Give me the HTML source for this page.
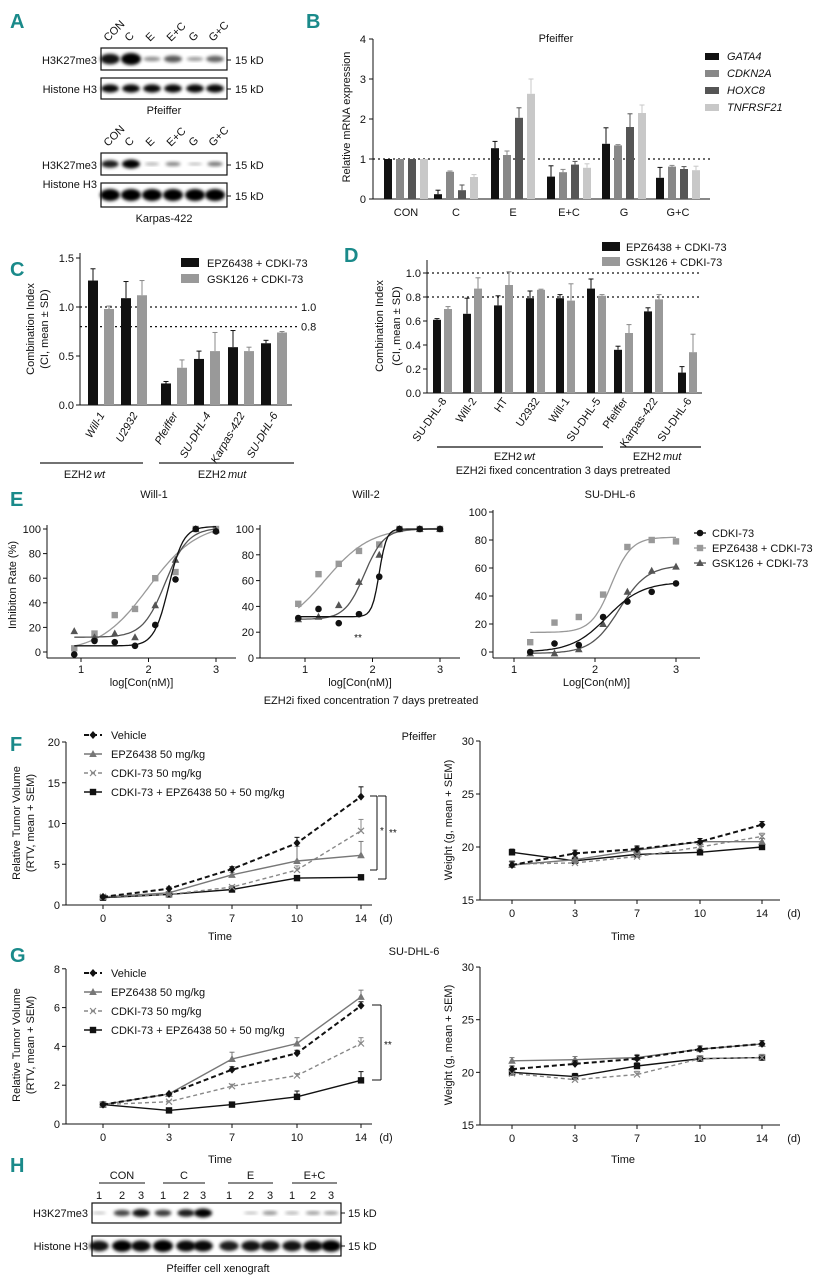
<!DOCTYPE html>
<html><head><meta charset="utf-8"><style>
html,body{margin:0;padding:0;background:#fff;}
svg{display:block;font-family:"Liberation Sans",Arial,sans-serif;}
.pl{fill:#1a8a8a;font-weight:bold;font-size:20px;}
</style></head><body>
<svg id="fig" width="829" height="1280" viewBox="0 0 829 1280">
<defs><filter id="blur" x="-50%" y="-50%" width="200%" height="200%"><feGaussianBlur stdDeviation="1.6"/></filter></defs>
<text class="pl" x="10" y="28">A</text>
<text class="pl" x="306" y="28">B</text>
<text class="pl" x="10" y="276">C</text>
<text class="pl" x="344" y="262">D</text>
<text class="pl" x="10" y="506">E</text>
<text class="pl" x="10" y="751">F</text>
<text class="pl" x="10" y="962">G</text>
<text class="pl" x="10" y="1172">H</text>
</svg>
<script>
// ---------- DATA ----------
const aLanes=['CON','C','E','E+C','G','G+C'];
const aPfeifferK27=[0.85,1,0.25,0.5,0.2,0.45];
const aKarpasK27=[0.8,1,0.12,0.3,0.06,0.35];
const bGroups=['CON','C','E','E+C','G','G+C'];
const bGenes=['GATA4','CDKN2A','HOXC8','TNFRSF21'];
const bGATA4=[1,0.12,1.27,0.56,1.38,0.53];
const bCDKN2A=[1,0.68,1.1,0.67,1.34,0.81];
const bHOXC8=[1,0.22,2.03,0.86,1.8,0.75];
const bTNFRSF21=[1,0.55,2.63,0.78,2.15,0.72];
const bErrGATA4=[0,0.1,0.17,0.27,0.4,0.26];
const bErrCDKN2A=[0,0.02,0.1,0.07,0.02,0.03];
const bErrHOXC8=[0,0.13,0.25,0.08,0.33,0.06];
const bErrTNFRSF21=[0,0.06,0.37,0.1,0.2,0.1];
const bTicks=[0,1,2,3,4];
const cCells=['Will-1','U2932','Pfeiffer','SU-DHL-4','Karpas-422','SU-DHL-6'];
const cEPZ=[1.27,1.09,0.22,0.47,0.59,0.63];
const cEPZerr=[0.12,0.17,0.02,0.08,0.17,0.03];
const cGSK=[0.98,1.12,0.38,0.55,0.55,0.74];
const cGSKerr=[0.03,0.15,0.08,0.19,0.04,0.01];
const cTicks=['0.0','0.5','1.0','1.5'];
const dCells=['SU-DHL-8','Will-2','HT','U2932','Will-1','SU-DHL-5','Pfeiffer','Karpas-422','SU-DHL-6'];
const dEPZ=[0.61,0.66,0.73,0.79,0.79,0.87,0.36,0.68,0.17];
const dEPZerr=[0.01,0.13,0.08,0.06,0.03,0.08,0.03,0.03,0.05];
const dGSK=[0.70,0.87,0.90,0.86,0.77,0.81,0.50,0.78,0.34];
const dGSKerr=[0.02,0.09,0.11,0.005,0.14,0.01,0.07,0.04,0.15];
const dTicks=['0.0','0.2','0.4','0.6','0.8','1.0'];
const eX12=[0.9,1.2,1.5,1.8,2.1,2.4,2.7,3.0];
const eX3=[1.2,1.5,1.8,2.1,2.4,2.7,3.0];
const e1CDKI=[-2,9,8,5,22,59,100,98];
const e1EPZ=[3,15,30,35,60,65,100,100];
const e1GSK=[17,12,15,12,38,75,100,99];
const e2CDKI=[31,38,27,34,63,100,100,100];
const e2EPZ=[42,65,73,83,88,100,100,100];
const e2GSK=[30,32,41,59,80,100,100,100];
const e3CDKI=[0,6,5,25,36,43,49];
const e3EPZ=[7,21,25,41,75,80,79];
const e3GSK=[-1,-1,2,20,43,58,61];
const e1FitCDKI=[5,102,2.3,4], e1FitEPZ=[0,105,2.0,1.2], e1FitGSK=[12,101,2.25,2.6];
const e2FitCDKI=[32,100,2.1,8], e2FitEPZ=[20,101,1.3,1.3], e2FitGSK=[30,100,1.88,3];
const e3FitCDKI=[0,50,2.15,2], e3FitEPZ=[14,82,2.2,3.5], e3FitGSK=[-1,62,2.3,2.5];
const days=['0','3','7','10','14'];
const fVehicle=[1,2,4.4,7.6,13.3], fVehicleErr=[0.1,0.2,0.3,0.7,1.2];
const fEPZ=[1,1.5,3.7,5.4,6.1], fEPZErr=[0.1,0.1,0.3,1.8,1.7];
const fCDKI=[1,1.3,2.2,4.3,9.1], fCDKIErr=[0.1,0.1,0.2,0.5,1.4];
const fCombo=[0.9,1.3,1.9,3.3,3.4], fComboErr=[0.2,0.1,0.2,0.3,0.2];
const fwVehicle=[18.3,19.4,19.8,20.5,22.1];
const fwEPZ=[18.3,18.8,19.7,20.5,20.5];
const fwCDKI=[18.4,18.5,19.1,20.0,21.0];
const fwCombo=[19.5,18.7,19.3,19.5,20.0];
const gVehicle=[1,1.55,2.8,3.65,6.1], gVehicleErr=[0.05,0.05,0.15,0.15,0.2];
const gEPZ=[1,1.55,3.35,4.15,6.55], gEPZErr=[0.05,0.05,0.35,0.3,0.35];
const gCDKI=[1,1.15,1.95,2.5,4.15], gCDKIErr=[0.05,0.05,0.1,0.1,0.3];
const gCombo=[1,0.7,1.0,1.4,2.25], gComboErr=[0.05,0.05,0.1,0.3,0.45];
const gwVehicle=[20.3,20.8,21.3,22.2,22.7];
const gwEPZ=[21.1,21.2,21.4,22.2,22.7];
const gwCDKI=[19.9,19.3,19.8,21.3,21.4];
const gwCombo=[20.0,19.6,20.6,21.3,21.4];
const hGroups=['CON','C','E','E+C'];
const hK27=[0.02,0.6,0.85,0.65,0.8,1,0,0.05,0.25,0.12,0.2,0.2];
const hH3=[0.85,0.95,0.9,1,0.9,0.9,0.8,0.85,0.85,0.85,0.9,0.95];

// ---------- HELPERS ----------
const NS='http://www.w3.org/2000/svg';
const svg=document.getElementById('fig');
function mk(tag,attrs,parent){const e=document.createElementNS(NS,tag);for(const k in attrs)e.setAttribute(k,attrs[k]);(parent||svg).appendChild(e);return e;}
function tx(x,y,s,size,anchor,extra,name){const e=mk('text',Object.assign({x:x,y:y,'font-size':size,'text-anchor':anchor||'start',fill:'#111'},extra||{}));e.textContent=s;


return e;}
function ln(x1,y1,x2,y2,stroke,w,extra,name){const e=mk('line',Object.assign({x1:x1,y1:y1,x2:x2,y2:y2,stroke:stroke||'#111','stroke-width':w||1},extra||{}));


return e;}
function rect(x,y,w,h,fill,name,extra){const e=mk('rect',Object.assign({x:x,y:y,width:w,height:h,fill:fill},extra||{}));


return e;}
function marker(type,x,y,color,name){let e;
if(type==='circle')e=mk('circle',{cx:x,cy:y,r:3.3,fill:color});
else if(type==='square')e=mk('rect',{x:x-3.2,y:y-3.2,width:6.4,height:6.4,fill:color});
else if(type==='triangle')e=mk('polygon',{points:(x)+','+(y-4)+' '+(x-3.8)+','+(y+3)+' '+(x+3.8)+','+(y+3),fill:color});
else if(type==='diamond')e=mk('polygon',{points:x+','+(y-4)+' '+(x+3.5)+','+y+' '+x+','+(y+4)+' '+(x-3.5)+','+y,fill:color});
else {e=mk('path',{d:'M'+(x-3)+' '+(y-3)+'L'+(x+3)+' '+(y+3)+'M'+(x+3)+' '+(y-3)+'L'+(x-3)+' '+(y+3),stroke:color,'stroke-width':1.2,fill:'none'});}


return e;}
function errUp(x,y1,y2,color){ln(x,y1,x,y2,color,1,{},'error-bar');ln(x-2.5,y2,x+2.5,y2,color,1,{},'error-cap');}

// ---------- PANEL A ----------
function blot(x0,y0,w,h,vals,lanesX,name,thick){
  rect(x0,y0,w,h,'#fff',name+'-frame',{stroke:'#111','stroke-width':1.2});
  lanesX.forEach((lx,i)=>{const v=vals[i];if(v<=0.01)return;
    const e=mk('ellipse',{cx:lx,cy:y0+h/2,rx:(thick?8:7)+v*2,ry:Math.max(1.2,(thick?5:3.5)*v+1),fill:'#000','fill-opacity':Math.min(1,0.25+v*0.8),filter:'url(#blur)'});
    
    
  });
}
const aLaneX=[110,131,152,173,195,215];
aLanes.forEach((l,i)=>{tx(aLaneX[i]-2,42,l,11,'start',{transform:'rotate(-45 '+(aLaneX[i]-2)+' 42)'},'lane-label');
tx(aLaneX[i]-2,147,l,11,'start',{transform:'rotate(-45 '+(aLaneX[i]-2)+' 147)'},'lane-label');});
blot(101,48,126,22,aPfeifferK27,aLaneX,'pfeiffer-h3k27me3-blot',true);
blot(101,78,126,21,[0.9,0.9,0.9,0.9,0.9,0.9],aLaneX,'pfeiffer-histone-blot',false);
blot(101,153,126,22,aKarpasK27,aLaneX,'karpas-h3k27me3-blot',false);
blot(101,183,126,24,[1,1,1,1,1,1],aLaneX,'karpas-histone-blot',true);
tx(97,64,'H3K27me3',11,'end',{},'row-label');tx(97,93,'Histone H3',11,'end',{},'row-label');
tx(97,169,'H3K27me3',11,'end',{},'row-label');tx(97,188,'Histone H3',11,'end',{},'row-label');
[[60,64],[89,93],[165,169],[196,200]].forEach(p=>{ln(227,p[0],231,p[0],'#111',1,{},'kd-tick');tx(235,p[1],'15 kD',11,'start',{},'kd-label');});
tx(164,114,'Pfeiffer',11,'middle',{},'cell-line-label');
tx(164,222,'Karpas-422',11,'middle',{},'cell-line-label');

// ---------- PANEL B ----------
const yB=v=>199-v*40;
const bCx=[406,456,513,569,624,678];
const bColors=['#111','#888','#555','#c8c8c8'];
const bSeries=[bGATA4,bCDKN2A,bHOXC8,bTNFRSF21];
const bErrs=[bErrGATA4,bErrCDKN2A,bErrHOXC8,bErrTNFRSF21];
ln(373,39,373,199,'#111',1,{},'b-y-axis');ln(373,199,710,199,'#111',1,{},'b-x-axis');
bTicks.forEach(t=>{ln(369,yB(t),373,yB(t),'#111',1,{},'b-y-tick');tx(366,yB(t)+4,String(t),11,'end',{},'b-y-tick-label');});
ln(373,yB(1),710,yB(1),'#111',1.3,{'stroke-dasharray':'2,3'},'b-reference-line');
bGroups.forEach((g,i)=>{tx(bCx[i],216,g,11,'middle',{},'b-x-tick-label');
 bSeries.forEach((s,j)=>{const x=bCx[i]+(j-1.5)*12;
  if(bErrs[j][i]>0)errUp(x,yB(s[i]),yB(s[i]+bErrs[j][i]),bColors[j]);
  rect(x-4,yB(s[i]),8,199-yB(s[i]),bColors[j],'b-bar-'+bGenes[j].toLowerCase());});});
tx(556,42,'Pfeiffer',11,'middle',{},'b-title');
tx(350,117,'Relative mRNA expression',11,'middle',{transform:'rotate(-90 350 117)'},'b-y-axis-title');
bGenes.forEach((g,j)=>{rect(705,53+j*17,14,7,bColors[j],'b-legend-swatch');tx(727,60+j*17,g,11,'start',{'font-style':'italic'},'b-legend-entry');});

// ---------- PANEL C ----------
const yC=v=>405-v*98;
const cBx=[93,126,166,199,233,266];
ln(80,253,80,405,'#111',1,{},'c-y-axis');ln(80,405,292,405,'#111',1,{},'c-x-axis');
cTicks.forEach(t=>{const v=parseFloat(t);ln(76,yC(v),80,yC(v),'#111',1,{},'c-y-tick');tx(74,yC(v)+4,t,11,'end',{},'c-y-tick-label');});
ln(80,yC(1),297,yC(1),'#111',1.3,{'stroke-dasharray':'2,3'},'c-ref-line-1');
ln(80,yC(0.8),297,yC(0.8),'#111',1.3,{'stroke-dasharray':'2,3'},'c-ref-line-08');
tx(301,yC(1)+4,'1.0',11,'start',{},'c-ref-label');tx(301,yC(0.8)+4,'0.8',11,'start',{},'c-ref-label');
cCells.forEach((c,i)=>{const xb=cBx[i],xg=cBx[i]+16;
 errUp(xb,yC(cEPZ[i]),yC(cEPZ[i]+cEPZerr[i]),'#111');errUp(xg,yC(cGSK[i]),yC(cGSK[i]+cGSKerr[i]),'#888');
 rect(xb-5,yC(cEPZ[i]),10,405-yC(cEPZ[i]),'#111','c-bar-epz');rect(xg-5,yC(cGSK[i]),10,405-yC(cGSK[i]),'#999','c-bar-gsk');
 tx(xb+12,415,c,11,'end',{'font-style':'italic',transform:'rotate(-60 '+(xb+12)+' 415)'},'c-x-tick-label');});
tx(34,329,'Combination Index',11,'middle',{transform:'rotate(-90 34 329)'},'c-y-axis-title');
tx(48,329,'(CI, mean ± SD)',11,'middle',{transform:'rotate(-90 48 329)'},'c-y-axis-title');
rect(181,258,18,9,'#111','c-legend-swatch');tx(207,267,'EPZ6438 + CDKI-73',11,'start',{},'c-legend-entry');
rect(181,274,18,9,'#999','c-legend-swatch');tx(207,283,'GSK126 + CDKI-73',11,'start',{},'c-legend-entry');
ln(40,463,143,463,'#444',1.5,{},'c-group-line');ln(159,463,294,463,'#444',1.5,{},'c-group-line');
tx(92,478,'EZH2 ',11,'end',{},'c-group-label');tx(94,478,'wt',11,'start',{'font-style':'italic'},'c-group-label');
tx(226,478,'EZH2 ',11,'end',{},'c-group-label');tx(228,478,'mut',11,'start',{'font-style':'italic'},'c-group-label');

// ---------- PANEL D ----------
const yD=v=>393-v*120;
const dBx=[437,467,498,530,560,591,618,648,682];
ln(427,260,427,393,'#111',1,{},'d-y-axis');ln(427,393,702,393,'#111',1,{},'d-x-axis');
dTicks.forEach(t=>{const v=parseFloat(t);ln(423,yD(v),427,yD(v),'#111',1,{},'d-y-tick');tx(421,yD(v)+4,t,11,'end',{},'d-y-tick-label');});
ln(427,yD(1),702,yD(1),'#111',1.3,{'stroke-dasharray':'2,3'},'d-ref-line-1');
ln(427,yD(0.8),702,yD(0.8),'#111',1.3,{'stroke-dasharray':'2,3'},'d-ref-line-08');
dCells.forEach((c,i)=>{const xb=dBx[i],xg=dBx[i]+11;
 errUp(xb,yD(dEPZ[i]),yD(dEPZ[i]+dEPZerr[i]),'#111');errUp(xg,yD(dGSK[i]),yD(dGSK[i]+dGSKerr[i]),'#888');
 rect(xb-4,yD(dEPZ[i]),8,393-yD(dEPZ[i]),'#111','d-bar-epz');rect(xg-4,yD(dGSK[i]),8,393-yD(dGSK[i]),'#999','d-bar-gsk');
 tx(xb+10,401,c,11,'end',{transform:'rotate(-55 '+(xb+10)+' 401)'},'d-x-tick-label');});
tx(383,326,'Combination Index',11,'middle',{transform:'rotate(-90 383 326)'},'d-y-axis-title');
tx(400,326,'(CI, mean ± SD)',11,'middle',{transform:'rotate(-90 400 326)'},'d-y-axis-title');
rect(602,242,18,9,'#111','d-legend-swatch');tx(626,251,'EPZ6438 + CDKI-73',11,'start',{},'d-legend-entry');
rect(602,257,18,9,'#999','d-legend-swatch');tx(626,266,'GSK126 + CDKI-73',11,'start',{},'d-legend-entry');
ln(437,447,603,447,'#111',1.3,{},'d-group-line');ln(620,447,701,447,'#111',1.3,{},'d-group-line');
tx(522,460,'EZH2 ',11,'end',{},'d-group-label');tx(524,460,'wt',11,'start',{'font-style':'italic'},'d-group-label');
tx(661,460,'EZH2 ',11,'end',{},'d-group-label');tx(663,460,'mut',11,'start',{'font-style':'italic'},'d-group-label');
tx(563,474,'EZH2i fixed concentration 3 days pretreated',11,'middle',{},'d-caption');

// ---------- PANEL E ----------
function ePlot(o){
 const X=l=>o.x1+(l-1)*o.dx, Y=v=>o.y0-v*o.sy;
 ln(o.ax,o.ytop,o.ax,o.abot,'#111',1,{},'e-y-axis');ln(o.ax,o.abot,o.axEnd,o.abot,'#111',1,{},'e-x-axis');
 [0,20,40,60,80,100].forEach(t=>{ln(o.ax-4,Y(t),o.ax,Y(t),'#111',1,{},'e-y-tick');tx(o.ax-6,Y(t)+4,String(t),11,'end',{},'e-y-tick-label');});
 [1,2,3].forEach(t=>{ln(X(t),o.abot,X(t),o.abot+4,'#111',1,{},'e-x-tick');tx(X(t),o.abot+15,String(t),11,'middle',{},'e-x-tick-label');});
 tx((o.ax+o.axEnd)/2,o.abot+28,o.xl,11,'middle',{},'e-x-axis-title');
 tx(o.tx,498,o.title,11,'middle',{},'e-plot-title');
 const ser=[[o.epz,o.fEPZ,'#999','square'],[o.gsk,o.fGSK,'#555','triangle'],[o.cdki,o.fCDKI,'#111','circle']];
 ser.forEach(s=>{let d='';const f=s[1];
  for(let k=0;k<=60;k++){const l=o.xs[0]+(o.xs[o.xs.length-1]-o.xs[0])*k/60;const v=f[0]+(f[1]-f[0])/(1+Math.pow(10,(f[2]-l)*f[3]));d+=(k?'L':'M')+X(l).toFixed(1)+' '+Y(v).toFixed(1);}
  const p=mk('path',{d:d,fill:'none',stroke:s[2],'stroke-width':1.3});
  
  
  o.xs.forEach((l,i)=>{marker(s[3],X(l),Y(s[0][i]),s[2],'e-point');});});
}
ePlot({x1:81,dx:67.5,y0:652,sy:1.23,ax:47,ytop:525,abot:658,axEnd:236,tx:154,title:'Will-1',xl:'log[Con(nM)]',xs:eX12,cdki:e1CDKI,epz:e1EPZ,gsk:e1GSK,fCDKI:e1FitCDKI,fEPZ:e1FitEPZ,fGSK:e1FitGSK});
ePlot({x1:305,dx:67.5,y0:658,sy:1.29,ax:260,ytop:525,abot:658,axEnd:460,tx:366,title:'Will-2',xl:'log[Con(nM)]',xs:eX12,cdki:e2CDKI,epz:e2EPZ,gsk:e2GSK,fCDKI:e2FitCDKI,fEPZ:e2FitEPZ,fGSK:e2FitGSK});
ePlot({x1:514,dx:81,y0:652,sy:1.4,ax:493,ytop:510,abot:658,axEnd:700,tx:610,title:'SU-DHL-6',xl:'Log[Con(nM)]',xs:eX3,cdki:e3CDKI,epz:e3EPZ,gsk:e3GSK,fCDKI:e3FitCDKI,fEPZ:e3FitEPZ,fGSK:e3FitGSK});
tx(358,641,'**',10,'middle',{},'e-significance');
tx(16,585,'Inhibiton Rate (%)',11,'middle',{transform:'rotate(-90 16 585)'},'e-y-axis-title');
tx(371,704,'EZH2i fixed concentration 7 days pretreated',11,'middle',{},'e-caption');
[['circle','#111','CDKI-73'],['square','#999','EPZ6438 + CDKI-73'],['triangle','#555','GSK126 + CDKI-73']].forEach((s,i)=>{const y=533+i*15;
 ln(694,y,706,y,s[1],1.3,{},'e-legend-line');marker(s[0],700,y,s[1],'e-legend-marker');tx(712,y+4,s[2],11,'start',{},'e-legend-entry');});

// ---------- PANELS F/G ----------
const dayX=[103,169,232,297,361], dayXR=[512,575,637,700,762];
function linePlot(o){
 const Y=v=>o.y0-(v-o.vmin)*o.sy;
 ln(o.ax,o.ytop,o.ax,o.abot,'#111',1,{},o.p+'-y-axis');ln(o.ax,o.abot,o.axEnd,o.abot,'#111',1,{},o.p+'-x-axis');
 o.ticks.forEach(t=>{ln(o.ax-4,Y(t),o.ax,Y(t),'#111',1,{},o.p+'-y-tick');tx(o.ax-6,Y(t)+4,String(t),11,'end',{},o.p+'-y-tick-label');});
 days.forEach((d,i)=>{ln(o.xs[i],o.abot,o.xs[i],o.abot+4,'#111',1,{},o.p+'-x-tick');tx(o.xs[i],o.abot+17,d,11,'middle',{},o.p+'-x-tick-label');});
 tx(o.axEnd+14,o.abot+17,'(d)',11,'middle',{},o.p+'-x-unit');
 const ser=[[o.combo,o.comboE,'#111','square',''],[o.cdki,o.cdkiE,'#888','x','4,3'],[o.epz,o.epzE,'#777','triangle',''],[o.veh,o.vehE,'#111','diamond','5,3']];
 ser.forEach(s=>{let d='';s[0].forEach((v,i)=>{d+=(i?'L':'M')+o.xs[i]+' '+Y(v).toFixed(1);});
  const p=mk('path',{d:d,fill:'none',stroke:s[2],'stroke-width':s[2]==='#111'&&s[4]?2:1.4,'stroke-dasharray':s[4]});
  
  
  s[0].forEach((v,i)=>{const e=s[1]?s[1][i]:0.3;errUp(o.xs[i],Y(v),Y(v+e),s[2]);marker(s[3],o.xs[i],Y(v),s[2],o.p+'-point');});});
}
function legendFG(y0,gap,p){[['diamond','#111','Vehicle','5,3'],['triangle','#777','EPZ6438 50 mg/kg',''],['x','#888','CDKI-73 50 mg/kg','4,3'],['square','#111','CDKI-73 + EPZ6438 50 + 50 mg/kg','']].forEach((s,i)=>{const y=y0+i*gap;
 ln(84,y,102,y,s[1],s[0]==='diamond'?2:1.4,{'stroke-dasharray':s[3]},p+'-legend-line');marker(s[0],93,y,s[1],p+'-legend-marker');tx(111,y+4,s[2],11,'start',{},p+'-legend-entry');});}
linePlot({p:'f-rtv',xs:dayX,y0:905,vmin:0,sy:8.15,ax:66,ytop:742,abot:905,axEnd:372,ticks:[0,5,10,15,20],veh:fVehicle,vehE:fVehicleErr,epz:fEPZ,epzE:fEPZErr,cdki:fCDKI,cdkiE:fCDKIErr,combo:fCombo,comboE:fComboErr});
legendFG(735,19,'f');
tx(220,940,'Time',11,'middle',{},'f-x-axis-title');
tx(20,823,'Relative Tumor Volume',11,'middle',{transform:'rotate(-90 20 823)'},'f-y-axis-title');
tx(34,823,'(RTV, mean + SEM)',11,'middle',{transform:'rotate(-90 34 823)'},'f-y-axis-title');
ln(370,796,377,796,'#111',1,{},'f-bracket');ln(377,796,377,870,'#111',1,{},'f-bracket');ln(370,870,377,870,'#111',1,{},'f-bracket');tx(380,834,'*',10,'start',{},'f-significance');
ln(378,796,386,796,'#111',1,{},'f-bracket');ln(386,796,386,879,'#111',1,{},'f-bracket');ln(378,879,386,879,'#111',1,{},'f-bracket');tx(389,836,'**',10,'start',{},'f-significance');
tx(419,740,'Pfeiffer',11,'middle',{},'f-cell-line-title');
linePlot({p:'f-weight',xs:dayXR,y0:900,vmin:15,sy:10.6,ax:480,ytop:741,abot:900,axEnd:780,ticks:[15,20,25,30],veh:fwVehicle,vehE:null,epz:fwEPZ,epzE:null,cdki:fwCDKI,cdkiE:null,combo:fwCombo,comboE:null});
tx(623,940,'Time',11,'middle',{},'f-weight-x-axis-title');
tx(452,820,'Weight (g, mean + SEM)',11,'middle',{transform:'rotate(-90 452 820)'},'f-weight-y-axis-title');
linePlot({p:'g-rtv',xs:dayX,y0:1124,vmin:0,sy:19.4,ax:66,ytop:969,abot:1124,axEnd:372,ticks:[0,2,4,6,8],veh:gVehicle,vehE:gVehicleErr,epz:gEPZ,epzE:gEPZErr,cdki:gCDKI,cdkiE:gCDKIErr,combo:gCombo,comboE:gComboErr});
legendFG(973,19,'g');
tx(220,1163,'Time',11,'middle',{},'g-x-axis-title');
tx(20,1045,'Relative Tumor Volume',11,'middle',{transform:'rotate(-90 20 1045)'},'g-y-axis-title');
tx(34,1045,'(RTV, mean + SEM)',11,'middle',{transform:'rotate(-90 34 1045)'},'g-y-axis-title');
ln(372,1005,381,1005,'#111',1,{},'g-bracket');ln(381,1005,381,1080,'#111',1,{},'g-bracket');ln(372,1080,381,1080,'#111',1,{},'g-bracket');tx(384,1048,'**',10,'start',{},'g-significance');
tx(414,955,'SU-DHL-6',11,'middle',{},'g-cell-line-title');
linePlot({p:'g-weight',xs:dayXR,y0:1125,vmin:15,sy:10.53,ax:480,ytop:967,abot:1125,axEnd:780,ticks:[15,20,25,30],veh:gwVehicle,vehE:null,epz:gwEPZ,epzE:null,cdki:gwCDKI,cdkiE:null,combo:gwCombo,comboE:null});
tx(623,1163,'Time',11,'middle',{},'g-weight-x-axis-title');
tx(452,1045,'Weight (g, mean + SEM)',11,'middle',{transform:'rotate(-90 452 1045)'},'g-weight-y-axis-title');

// ---------- PANEL H ----------
const hLaneX=[99,122,141,163,186,203,229,251,270,292,313,331];
const hGroupSpan=[[99,145],[163,205],[228,273],[292,337]];
hGroups.forEach((g,i)=>{const s=hGroupSpan[i];ln(s[0],1183,s[1],1183,'#111',1,{},'h-group-line');tx((s[0]+s[1])/2,1179,g,11,'middle',{},'h-group-label');});
hLaneX.forEach((x,i)=>{tx(x,1199,String(i%3+1),11,'middle',{},'h-lane-number');});
blot(92,1203,249,20,hK27,hLaneX,'h-h3k27me3-blot',false);
blot(92,1236,249,20,hH3,hLaneX,'h-histone-blot',true);
tx(88,1217,'H3K27me3',11,'end',{},'h-row-label');tx(88,1250,'Histone H3',11,'end',{},'h-row-label');
[[1213,1217],[1246,1250]].forEach(p=>{ln(341,p[0],345,p[0],'#111',1,{},'h-kd-tick');tx(348,p[1],'15 kD',11,'start',{},'h-kd-label');});
tx(218,1272,'Pfeiffer cell xenograft',11,'middle',{},'h-caption');
</script>
</body></html>
